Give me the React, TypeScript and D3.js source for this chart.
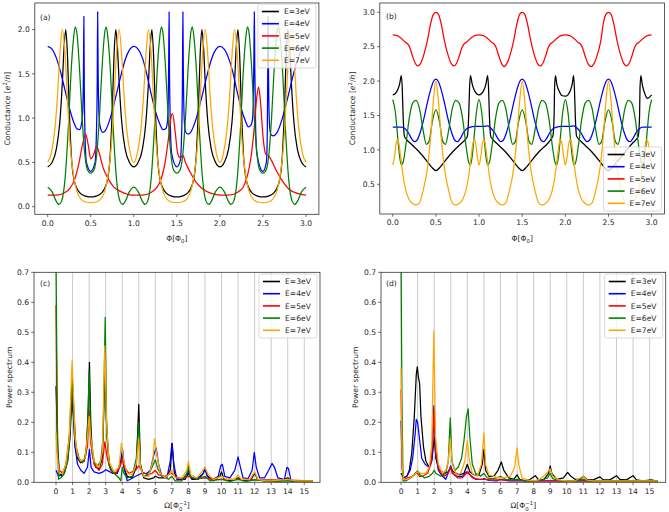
import React from "react";
import * as d3 from "d3";

type Pt = [number, number];

const seriesNames = ["E=3eV", "E=4eV", "E=5eV", "E=6eV", "E=7eV"];
const seriesColors = ["#000000", "#0000ff", "#ff0000", "#008000", "#ffa500"];

const phiTicks = [0, 0.5, 1, 1.5, 2, 2.5, 3];
const condTicksA = [0, 0.5, 1, 1.5, 2];
const condTicksB = [0.5, 1, 1.5, 2, 2.5, 3];
const omegaTicks = [0, 1, 2, 3, 4, 5, 6, 7, 8, 9, 10, 11, 12, 13, 14, 15];
const powerTicks = [0, 0.1, 0.2, 0.3, 0.4, 0.5, 0.6, 0.7];

// ---------- Panel (a): conductance vs flux ----------
const A_E3: Pt[] = [[0,0.45],[0.05,0.5],[0.1,0.65],[0.14,0.95],[0.17,1.4],[0.19,1.8],[0.21,2.0],[0.23,1.7],[0.25,1.1],[0.28,0.5],[0.32,0.25],[0.38,0.15],[0.44,0.12],[0.5,0.11],[0.56,0.12],[0.62,0.15],[0.68,0.25],[0.72,0.5],[0.75,1.1],[0.77,1.7],[0.79,2.0],[0.81,1.8],[0.83,1.4],[0.86,0.95],[0.9,0.65],[0.95,0.5],
[1.0,0.45],[1.05,0.5],[1.1,0.65],[1.14,0.95],[1.17,1.4],[1.19,1.8],[1.21,2.0],[1.23,1.7],[1.25,1.1],[1.28,0.5],[1.32,0.25],[1.38,0.15],[1.44,0.12],[1.5,0.11],[1.56,0.12],[1.62,0.15],[1.68,0.25],[1.72,0.5],[1.75,1.1],[1.77,1.7],[1.79,2.0],[1.81,1.8],[1.83,1.4],[1.86,0.95],[1.9,0.65],[1.95,0.5],
[2.0,0.45],[2.05,0.5],[2.1,0.65],[2.14,0.95],[2.17,1.4],[2.19,1.8],[2.21,2.0],[2.23,1.7],[2.25,1.1],[2.28,0.5],[2.32,0.25],[2.38,0.15],[2.44,0.12],[2.5,0.11],[2.56,0.12],[2.62,0.15],[2.68,0.25],[2.72,0.5],[2.75,1.1],[2.77,1.7],[2.79,2.0],[2.81,1.8],[2.83,1.4],[2.86,0.95],[2.9,0.65],[2.95,0.5],[3.0,0.45]];

const A_E4: Pt[] = [[0,1.81],[0.05,1.78],[0.1,1.68],[0.15,1.52],[0.2,1.32],[0.25,1.12],[0.3,0.96],[0.34,0.88],[0.37,0.87],[0.39,0.92],[0.405,1.05],[0.415,1.5],[0.42,2.15],[0.425,1.3],[0.435,0.75],[0.45,0.5],[0.5,0.4],[0.55,0.5],[0.565,0.8],[0.575,1.4],[0.58,2.2],[0.585,1.6],[0.595,1.05],[0.61,0.9],[0.64,0.84],[0.67,0.86],[0.72,0.98],[0.78,1.2],[0.85,1.48],[0.9,1.66],[0.95,1.77],
[1.0,1.81],[1.05,1.78],[1.1,1.68],[1.15,1.5],[1.2,1.28],[1.25,1.08],[1.3,0.94],[1.34,0.87],[1.37,0.88],[1.39,0.95],[1.4,1.2],[1.405,1.6],[1.41,2.2],[1.415,1.5],[1.425,0.9],[1.44,0.6],[1.5,0.45],[1.54,0.52],[1.555,0.8],[1.565,1.4],[1.57,2.2],[1.575,1.6],[1.585,1.0],[1.6,0.85],[1.63,0.82],[1.66,0.84],[1.72,0.98],[1.78,1.2],[1.85,1.48],[1.9,1.66],[1.95,1.77],
[2.0,1.81],[2.05,1.78],[2.1,1.68],[2.15,1.52],[2.2,1.3],[2.25,1.1],[2.3,0.96],[2.33,0.9],[2.36,0.92],[2.38,1.0],[2.39,1.3],[2.395,1.7],[2.4,2.2],[2.405,1.6],[2.415,0.9],[2.43,0.6],[2.5,0.4],[2.54,0.5],[2.55,0.8],[2.555,1.4],[2.56,2.15],[2.565,1.5],[2.575,0.95],[2.59,0.82],[2.62,0.8],[2.66,0.83],[2.72,0.98],[2.78,1.2],[2.85,1.48],[2.9,1.66],[2.95,1.77],[3.0,1.81]];

const A_E5: Pt[] = [[0,0.13],[0.1,0.13],[0.2,0.16],[0.26,0.21],[0.31,0.3],[0.36,0.48],[0.4,0.68],[0.44,0.82],[0.47,0.7],[0.5,0.54],[0.53,0.58],[0.57,0.68],[0.6,0.6],[0.64,0.45],[0.7,0.32],[0.76,0.23],[0.85,0.17],[0.93,0.14],
[1.0,0.13],[1.1,0.13],[1.2,0.16],[1.27,0.22],[1.32,0.32],[1.36,0.48],[1.4,0.75],[1.43,1.0],[1.45,1.05],[1.48,0.85],[1.51,0.6],[1.54,0.55],[1.57,0.58],[1.6,0.5],[1.65,0.4],[1.72,0.28],[1.8,0.2],[1.9,0.15],
[2.0,0.13],[2.1,0.13],[2.2,0.16],[2.27,0.22],[2.32,0.35],[2.36,0.55],[2.4,0.9],[2.43,1.25],[2.45,1.35],[2.47,1.2],[2.5,0.8],[2.53,0.6],[2.57,0.57],[2.6,0.52],[2.66,0.4],[2.72,0.3],[2.8,0.2],[2.9,0.15],[3.0,0.13]];

const A_E6: Pt[] = [[0,0.22],[0.05,0.17],[0.1,0.06],[0.13,0.025],[0.16,0.06],[0.2,0.3],[0.24,0.9],[0.27,1.5],[0.3,1.9],[0.32,2.03],[0.34,1.95],[0.37,1.55],[0.4,1.0],[0.43,0.6],[0.46,0.42],[0.5,0.38],[0.54,0.42],[0.57,0.6],[0.6,1.0],[0.63,1.55],[0.66,1.95],[0.68,2.03],[0.7,1.9],[0.73,1.5],[0.76,0.9],[0.8,0.3],[0.84,0.06],[0.87,0.025],[0.9,0.06],[0.95,0.17],
[1.0,0.22],[1.05,0.17],[1.1,0.06],[1.13,0.025],[1.16,0.06],[1.2,0.3],[1.24,0.9],[1.27,1.5],[1.3,1.9],[1.32,2.03],[1.34,1.95],[1.37,1.55],[1.4,1.0],[1.43,0.6],[1.46,0.42],[1.5,0.38],[1.54,0.42],[1.57,0.6],[1.6,1.0],[1.63,1.55],[1.66,1.95],[1.68,2.03],[1.7,1.9],[1.73,1.5],[1.76,0.9],[1.8,0.3],[1.84,0.06],[1.87,0.025],[1.9,0.06],[1.95,0.17],
[2.0,0.22],[2.05,0.17],[2.1,0.06],[2.13,0.025],[2.16,0.06],[2.2,0.3],[2.24,0.9],[2.27,1.5],[2.3,1.9],[2.32,2.03],[2.34,1.95],[2.37,1.55],[2.4,1.0],[2.43,0.6],[2.46,0.42],[2.5,0.38],[2.54,0.42],[2.57,0.6],[2.6,1.0],[2.63,1.55],[2.66,1.95],[2.68,2.03],[2.7,1.9],[2.73,1.5],[2.76,0.9],[2.8,0.3],[2.84,0.06],[2.87,0.025],[2.9,0.06],[2.95,0.17],[3.0,0.22]];

const A_E7: Pt[] = [[0,0.5],[0.04,0.6],[0.08,0.85],[0.11,1.2],[0.14,1.7],[0.17,2.0],[0.2,1.75],[0.23,1.2],[0.26,0.7],[0.3,0.35],[0.34,0.17],[0.39,0.08],[0.45,0.05],[0.5,0.045],[0.55,0.05],[0.61,0.08],[0.66,0.17],[0.7,0.35],[0.74,0.7],[0.77,1.2],[0.8,1.75],[0.83,2.0],[0.86,1.7],[0.89,1.2],[0.92,0.85],[0.96,0.6],
[1.0,0.5],[1.04,0.6],[1.08,0.85],[1.11,1.2],[1.14,1.7],[1.17,2.0],[1.2,1.75],[1.23,1.2],[1.26,0.7],[1.3,0.35],[1.34,0.17],[1.39,0.08],[1.45,0.05],[1.5,0.045],[1.55,0.05],[1.61,0.08],[1.66,0.17],[1.7,0.35],[1.74,0.7],[1.77,1.2],[1.8,1.75],[1.83,2.0],[1.86,1.7],[1.89,1.2],[1.92,0.85],[1.96,0.6],
[2.0,0.5],[2.04,0.6],[2.08,0.85],[2.11,1.2],[2.14,1.7],[2.17,2.0],[2.2,1.75],[2.23,1.2],[2.26,0.7],[2.3,0.35],[2.34,0.17],[2.39,0.08],[2.45,0.05],[2.5,0.045],[2.55,0.05],[2.61,0.08],[2.66,0.17],[2.7,0.35],[2.74,0.7],[2.77,1.2],[2.8,1.75],[2.83,2.0],[2.86,1.7],[2.89,1.2],[2.92,0.85],[2.96,0.6],[3.0,0.5]];

// ---------- Panel (b) ----------
const B_E3: Pt[] = [[0,1.8],[0.03,1.82],[0.06,1.88],[0.08,1.96],[0.1,2.08],[0.11,1.9],[0.12,1.5],[0.135,1.2],[0.16,1.15],[0.2,1.1],[0.3,0.98],[0.4,0.83],[0.45,0.75],[0.5,0.7],[0.55,0.75],[0.6,0.83],[0.7,0.98],[0.8,1.1],[0.84,1.15],[0.865,1.2],[0.88,1.5],[0.89,1.9],[0.9,2.08],[0.92,1.96],[0.94,1.88],[0.97,1.82],
[1.0,1.8],[1.03,1.82],[1.06,1.88],[1.08,1.96],[1.1,2.08],[1.11,1.9],[1.12,1.5],[1.135,1.2],[1.16,1.15],[1.2,1.1],[1.3,0.98],[1.4,0.83],[1.45,0.75],[1.5,0.7],[1.55,0.75],[1.6,0.83],[1.7,0.98],[1.8,1.1],[1.83,1.15],[1.855,1.2],[1.87,1.5],[1.875,1.9],[1.885,2.08],[1.9,1.96],[1.93,1.85],[1.96,1.79],
[2.0,1.78],[2.03,1.8],[2.06,1.87],[2.08,1.96],[2.095,2.08],[2.105,1.9],[2.115,1.5],[2.13,1.2],[2.16,1.15],[2.2,1.1],[2.3,0.98],[2.4,0.83],[2.45,0.75],[2.5,0.7],[2.55,0.75],[2.6,0.83],[2.7,0.98],[2.78,1.1],[2.82,1.15],[2.845,1.2],[2.86,1.5],[2.865,1.9],[2.875,2.08],[2.89,1.96],[2.92,1.82],[2.95,1.75],[3.0,1.8]];

const B_E4: Pt[] = [[0,1.33],[0.1,1.33],[0.14,1.31],[0.18,1.25],[0.22,1.16],[0.25,1.12],[0.28,1.14],[0.32,1.26],[0.36,1.45],[0.4,1.68],[0.44,1.88],[0.47,1.99],[0.5,2.03],[0.53,1.99],[0.56,1.88],[0.6,1.68],[0.64,1.45],[0.68,1.26],[0.72,1.14],[0.75,1.12],[0.78,1.16],[0.82,1.25],[0.86,1.31],[0.9,1.33],[0.95,1.34],
[1.0,1.34],[1.05,1.34],[1.1,1.35],[1.14,1.31],[1.18,1.25],[1.22,1.16],[1.25,1.12],[1.28,1.14],[1.32,1.26],[1.36,1.45],[1.4,1.68],[1.44,1.88],[1.47,1.99],[1.5,2.03],[1.53,1.99],[1.56,1.88],[1.6,1.68],[1.64,1.45],[1.68,1.26],[1.72,1.14],[1.75,1.12],[1.78,1.16],[1.82,1.25],[1.86,1.31],[1.9,1.33],[1.95,1.34],
[2.0,1.34],[2.05,1.34],[2.1,1.35],[2.14,1.31],[2.18,1.25],[2.22,1.16],[2.25,1.12],[2.28,1.14],[2.32,1.26],[2.36,1.45],[2.4,1.68],[2.44,1.88],[2.47,1.99],[2.5,2.03],[2.53,1.99],[2.56,1.88],[2.6,1.68],[2.64,1.45],[2.68,1.26],[2.72,1.14],[2.75,1.12],[2.78,1.16],[2.82,1.25],[2.86,1.31],[2.9,1.33],[2.95,1.33],[3.0,1.33]];

const B_E5: Pt[] = [[0,2.67],[0.05,2.66],[0.1,2.62],[0.15,2.56],[0.18,2.53],[0.2,2.48],[0.23,2.36],[0.26,2.26],[0.29,2.22],[0.32,2.25],[0.36,2.38],[0.4,2.58],[0.44,2.84],[0.47,2.97],[0.5,3.0],[0.53,2.97],[0.56,2.84],[0.6,2.58],[0.64,2.38],[0.68,2.25],[0.71,2.22],[0.74,2.26],[0.77,2.36],[0.8,2.48],[0.82,2.53],[0.85,2.56],[0.9,2.62],[0.95,2.66],
[1.0,2.67],[1.05,2.66],[1.1,2.62],[1.15,2.56],[1.18,2.53],[1.2,2.48],[1.23,2.36],[1.26,2.26],[1.29,2.21],[1.32,2.25],[1.36,2.38],[1.4,2.58],[1.44,2.84],[1.47,2.97],[1.5,3.0],[1.53,2.97],[1.56,2.84],[1.6,2.58],[1.64,2.38],[1.68,2.25],[1.71,2.22],[1.74,2.26],[1.77,2.36],[1.8,2.48],[1.82,2.53],[1.85,2.56],[1.9,2.62],[1.95,2.66],
[2.0,2.67],[2.05,2.66],[2.1,2.62],[2.15,2.56],[2.18,2.53],[2.2,2.48],[2.23,2.36],[2.26,2.26],[2.3,2.21],[2.33,2.25],[2.37,2.38],[2.41,2.58],[2.44,2.84],[2.47,2.97],[2.5,3.0],[2.53,2.97],[2.56,2.84],[2.6,2.58],[2.64,2.38],[2.68,2.25],[2.71,2.22],[2.74,2.26],[2.77,2.36],[2.8,2.48],[2.82,2.53],[2.85,2.56],[2.9,2.62],[2.95,2.66],[3.0,2.67]];

const B_E6: Pt[] = [[0,1.73],[0.03,1.55],[0.06,1.15],[0.08,0.9],[0.1,0.78],[0.12,0.82],[0.15,1.05],[0.19,1.45],[0.23,1.68],[0.27,1.72],[0.31,1.6],[0.35,1.3],[0.39,1.08],[0.42,1.12],[0.46,1.42],[0.5,1.58],[0.54,1.42],[0.58,1.12],[0.61,1.08],[0.65,1.3],[0.69,1.6],[0.73,1.72],[0.77,1.68],[0.81,1.45],[0.85,1.05],[0.88,0.82],[0.9,0.78],[0.92,0.9],[0.94,1.15],[0.97,1.55],
[1.0,1.73],[1.03,1.55],[1.06,1.15],[1.08,0.9],[1.1,0.78],[1.12,0.82],[1.15,1.05],[1.19,1.45],[1.23,1.68],[1.27,1.72],[1.31,1.6],[1.35,1.3],[1.39,1.08],[1.42,1.12],[1.46,1.42],[1.5,1.58],[1.54,1.42],[1.58,1.12],[1.61,1.08],[1.65,1.3],[1.69,1.6],[1.73,1.72],[1.77,1.68],[1.81,1.45],[1.85,1.05],[1.88,0.82],[1.9,0.78],[1.92,0.9],[1.94,1.15],[1.97,1.55],
[2.0,1.73],[2.03,1.55],[2.06,1.15],[2.08,0.9],[2.1,0.78],[2.12,0.82],[2.15,1.05],[2.19,1.45],[2.23,1.68],[2.27,1.72],[2.31,1.6],[2.35,1.3],[2.39,1.08],[2.42,1.12],[2.46,1.42],[2.5,1.58],[2.54,1.42],[2.58,1.12],[2.61,1.08],[2.65,1.3],[2.69,1.6],[2.73,1.72],[2.77,1.68],[2.81,1.45],[2.85,1.05],[2.88,0.82],[2.9,0.78],[2.92,0.9],[2.94,1.15],[2.97,1.55],[3.0,1.73]];

const B_E7: Pt[] = [[0,0.78],[0.02,0.9],[0.04,1.1],[0.055,1.15],[0.07,1.1],[0.09,0.92],[0.12,0.62],[0.15,0.42],[0.19,0.28],[0.23,0.22],[0.27,0.2],[0.31,0.23],[0.35,0.4],[0.4,0.72],[0.44,1.2],[0.47,1.7],[0.5,2.0],[0.53,1.7],[0.56,1.2],[0.6,0.72],[0.65,0.4],[0.69,0.23],[0.73,0.2],[0.77,0.22],[0.81,0.28],[0.85,0.42],[0.88,0.62],[0.91,0.92],[0.93,1.1],[0.945,1.15],[0.96,1.1],[0.98,0.9],
[1.0,0.78],[1.02,0.9],[1.04,1.1],[1.055,1.15],[1.07,1.1],[1.09,0.92],[1.12,0.62],[1.15,0.42],[1.19,0.28],[1.23,0.22],[1.27,0.2],[1.31,0.23],[1.35,0.4],[1.4,0.72],[1.44,1.2],[1.47,1.7],[1.5,2.0],[1.53,1.7],[1.56,1.2],[1.6,0.72],[1.65,0.4],[1.69,0.23],[1.73,0.2],[1.77,0.22],[1.81,0.28],[1.85,0.42],[1.88,0.62],[1.91,0.92],[1.93,1.1],[1.945,1.15],[1.96,1.1],[1.98,0.9],
[2.0,0.78],[2.02,0.9],[2.04,1.1],[2.055,1.15],[2.07,1.1],[2.09,0.92],[2.12,0.62],[2.15,0.42],[2.19,0.28],[2.23,0.22],[2.27,0.2],[2.31,0.23],[2.35,0.4],[2.4,0.72],[2.44,1.2],[2.47,1.7],[2.5,2.0],[2.53,1.7],[2.56,1.2],[2.6,0.72],[2.65,0.4],[2.69,0.23],[2.73,0.2],[2.77,0.22],[2.81,0.28],[2.85,0.42],[2.88,0.62],[2.91,0.92],[2.93,1.1],[2.945,1.15],[2.96,1.1],[2.98,0.9],[3.0,0.78]];

// ---------- Panel (c): power spectrum ----------
const C_E3: Pt[] = [[0,0.32],[0.1,0.12],[0.2,0.03],[0.35,0.02],[0.5,0.03],[0.7,0.07],[0.85,0.15],[0.95,0.28],[1.05,0.22],[1.15,0.12],[1.3,0.08],[1.5,0.065],[1.7,0.07],[1.85,0.12],[1.95,0.25],[2.02,0.4],[2.1,0.2],[2.2,0.09],[2.4,0.05],[2.6,0.045],[2.8,0.08],[2.95,0.36],[3.05,0.2],[3.2,0.06],[3.4,0.035],[3.7,0.03],[3.9,0.06],[4.0,0.09],[4.1,0.05],[4.3,0.02],[4.6,0.015],[4.85,0.05],[5.0,0.26],[5.1,0.06],[5.3,0.015],[5.6,0.01],[5.9,0.015],[6.0,0.02],[6.2,0.015],[6.6,0.015],[6.9,0.04],[7.02,0.13],[7.15,0.03],[7.4,0.01],[7.8,0.01],[8.0,0.03],[8.2,0.01],[8.6,0.01],[8.9,0.03],[9.0,0.045],[9.15,0.02],[9.5,0.005],[9.9,0.02],[10.0,0.035],[10.15,0.01],[10.6,0.005],[11.0,0.015],[11.3,0.005],[11.8,0.01],[12.0,0.03],[12.2,0.008],[12.6,0.005],[13.0,0.005],[13.6,0.005],[14.0,0.015],[14.2,0.005],[15.0,0.005],[15.5,0.003]];
const C_E4: Pt[] = [[0,0.04],[0.15,0.02],[0.3,0.025],[0.5,0.04],[0.7,0.08],[0.85,0.18],[0.95,0.31],[1.05,0.24],[1.15,0.12],[1.3,0.06],[1.5,0.04],[1.7,0.03],[1.9,0.05],[2.02,0.11],[2.12,0.05],[2.3,0.035],[2.6,0.03],[2.85,0.035],[3.0,0.042],[3.15,0.038],[3.4,0.03],[3.7,0.03],[3.9,0.07],[4.02,0.11],[4.15,0.04],[4.3,0.005],[4.5,0.01],[4.8,0.02],[5.0,0.025],[5.2,0.03],[5.5,0.03],[5.7,0.04],[5.9,0.09],[6.05,0.115],[6.2,0.06],[6.4,0.02],[6.7,0.015],[6.9,0.07],[7.0,0.13],[7.12,0.06],[7.3,0.01],[7.6,0.01],[7.9,0.02],[8.0,0.04],[8.15,0.015],[8.5,0.01],[8.9,0.03],[9.0,0.05],[9.15,0.02],[9.5,0.01],[9.8,0.02],[9.95,0.055],[10.05,0.06],[10.2,0.02],[10.5,0.015],[10.8,0.04],[11.0,0.085],[11.1,0.06],[11.3,0.015],[11.6,0.012],[11.85,0.04],[11.98,0.1],[12.1,0.05],[12.3,0.015],[12.6,0.015],[12.85,0.04],[13.05,0.063],[13.2,0.05],[13.4,0.015],[13.8,0.01],[13.95,0.05],[14.05,0.045],[14.2,0.005],[14.8,0.005],[15.5,0.003]];
const C_E5: Pt[] = [[0,0.59],[0.08,0.1],[0.2,0.04],[0.4,0.03],[0.6,0.06],[0.8,0.15],[0.92,0.28],[1.0,0.33],[1.08,0.24],[1.2,0.12],[1.4,0.075],[1.7,0.07],[1.9,0.12],[2.0,0.24],[2.1,0.13],[2.3,0.06],[2.6,0.04],[2.8,0.06],[2.95,0.135],[3.1,0.08],[3.3,0.04],[3.6,0.03],[3.85,0.05],[4.0,0.08],[4.15,0.05],[4.4,0.03],[4.8,0.04],[5.0,0.055],[5.2,0.035],[5.5,0.025],[5.8,0.03],[6.0,0.04],[6.2,0.025],[6.6,0.02],[7.0,0.03],[7.3,0.015],[7.7,0.015],[8.0,0.02],[8.4,0.012],[9.0,0.015],[9.5,0.01],[10,0.01],[11,0.01],[12,0.008],[13,0.008],[14,0.007],[15,0.006],[15.5,0.006]];
const C_E6: Pt[] = [[0,0.75],[0.08,0.2],[0.15,0.01],[0.3,0.015],[0.5,0.03],[0.7,0.07],[0.85,0.17],[0.97,0.35],[1.07,0.22],[1.2,0.12],[1.4,0.08],[1.6,0.065],[1.8,0.09],[1.92,0.2],[2.0,0.37],[2.1,0.15],[2.3,0.07],[2.5,0.055],[2.7,0.07],[2.85,0.15],[2.97,0.55],[3.07,0.15],[3.25,0.05],[3.5,0.03],[3.8,0.015],[3.92,0.005],[4.0,0.05],[4.1,0.03],[4.3,0.015],[4.6,0.02],[4.85,0.08],[5.0,0.2],[5.1,0.06],[5.3,0.02],[5.6,0.025],[5.8,0.05],[6.0,0.075],[6.15,0.045],[6.4,0.02],[6.8,0.01],[7.0,0.02],[7.2,0.005],[7.6,0.005],[7.9,0.03],[8.0,0.055],[8.1,0.02],[8.5,0.01],[9.0,0.02],[9.3,0.005],[10,0.01],[10.5,0.003],[11,0.01],[11.5,0.003],[12,0.008],[13,0.003],[14,0.005],[15,0.003],[15.5,0.003]];
const C_E7: Pt[] = [[0,0.165],[0.08,0.08],[0.2,0.03],[0.4,0.03],[0.6,0.06],[0.8,0.15],[0.9,0.3],[0.97,0.405],[1.05,0.3],[1.15,0.15],[1.3,0.09],[1.5,0.07],[1.75,0.08],[1.9,0.15],[2.0,0.22],[2.1,0.15],[2.3,0.07],[2.6,0.05],[2.8,0.1],[2.95,0.455],[3.05,0.2],[3.2,0.07],[3.5,0.035],[3.8,0.05],[3.95,0.13],[4.1,0.07],[4.3,0.03],[4.6,0.025],[4.85,0.06],[5.0,0.145],[5.1,0.05],[5.3,0.02],[5.6,0.02],[5.85,0.07],[5.95,0.145],[6.1,0.09],[6.3,0.03],[6.6,0.015],[6.9,0.03],[7.0,0.04],[7.2,0.015],[7.6,0.015],[7.9,0.04],[8.0,0.07],[8.15,0.025],[8.5,0.015],[8.8,0.035],[9.0,0.05],[9.2,0.025],[9.5,0.01],[10.0,0.02],[10.3,0.01],[10.8,0.01],[11.0,0.025],[11.2,0.01],[11.7,0.01],[12.0,0.035],[12.2,0.01],[12.7,0.005],[13,0.005],[14,0.01],[14.5,0.005],[15,0.005],[15.5,0.005]];

// ---------- Panel (d) ----------
const D_E3: Pt[] = [[0,0.03],[0.15,0.015],[0.35,0.02],[0.5,0.04],[0.65,0.1],[0.8,0.22],[0.92,0.36],[0.98,0.385],[1.05,0.35],[1.12,0.33],[1.2,0.22],[1.35,0.12],[1.5,0.07],[1.7,0.05],[1.85,0.07],[1.95,0.12],[2.02,0.15],[2.1,0.08],[2.3,0.04],[2.6,0.03],[2.85,0.035],[3.0,0.05],[3.15,0.035],[3.5,0.025],[3.8,0.03],[4.0,0.06],[4.15,0.035],[4.4,0.025],[4.7,0.025],[4.9,0.06],[5.0,0.11],[5.1,0.04],[5.3,0.02],[5.6,0.02],[5.85,0.04],[6.05,0.068],[6.2,0.04],[6.5,0.015],[6.8,0.01],[7.0,0.025],[7.15,0.01],[7.5,0.005],[7.8,0.01],[8.1,0.022],[8.3,0.008],[8.6,0.008],[8.9,0.03],[9.0,0.055],[9.1,0.03],[9.4,0.01],[9.8,0.015],[10.05,0.033],[10.25,0.02],[10.5,0.01],[10.8,0.01],[11,0.02],[11.2,0.01],[11.6,0.008],[12,0.018],[12.2,0.008],[12.6,0.008],[13.0,0.022],[13.2,0.01],[13.6,0.008],[14.0,0.022],[14.2,0.008],[14.6,0.005],[15.1,0.008],[15.5,0.003]];
const D_E4: Pt[] = [[0,0.205],[0.07,0.05],[0.15,0.015],[0.35,0.02],[0.55,0.04],[0.7,0.08],[0.85,0.16],[0.92,0.21],[1.0,0.2],[1.1,0.15],[1.25,0.08],[1.45,0.06],[1.7,0.05],[1.88,0.08],[1.98,0.255],[2.08,0.1],[2.25,0.04],[2.5,0.02],[2.7,0.01],[2.9,0.04],[3.0,0.055],[3.1,0.03],[3.4,0.02],[3.7,0.02],[3.95,0.035],[4.15,0.025],[4.5,0.01],[4.9,0.01],[5.0,0.012],[5.3,0.006],[5.8,0.005],[6.0,0.01],[6.5,0.005],[7,0.005],[8,0.005],[9,0.005],[10,0.005],[11,0.005],[12,0.005],[13,0.005],[14,0.005],[15.5,0.005]];
const D_E5: Pt[] = [[0,0.31],[0.07,0.05],[0.15,0.01],[0.4,0.015],[0.7,0.02],[0.9,0.03],[1.0,0.03],[1.1,0.02],[1.3,0.02],[1.6,0.03],[1.8,0.06],[1.92,0.15],[2.0,0.24],[2.1,0.1],[2.3,0.04],[2.6,0.02],[2.85,0.03],[3.0,0.05],[3.1,0.03],[3.4,0.015],[3.7,0.015],[3.95,0.03],[4.05,0.035],[4.3,0.015],[4.7,0.01],[5.0,0.01],[5.5,0.008],[6,0.008],[7,0.006],[8,0.005],[9,0.005],[10,0.005],[11,0.005],[12,0.005],[13,0.005],[14,0.005],[15.5,0.005]];
const D_E6: Pt[] = [[0,0.75],[0.05,0.3],[0.12,0.005],[0.3,0.005],[0.6,0.015],[0.85,0.03],[1.0,0.038],[1.15,0.025],[1.4,0.015],[1.7,0.02],[1.9,0.03],[2.0,0.04],[2.1,0.03],[2.4,0.02],[2.7,0.03],[2.85,0.07],[2.97,0.215],[3.07,0.07],[3.25,0.04],[3.45,0.05],[3.65,0.08],[3.8,0.14],[3.95,0.22],[4.05,0.245],[4.15,0.15],[4.3,0.06],[4.5,0.03],[4.8,0.02],[5.0,0.03],[5.2,0.015],[5.5,0.012],[5.8,0.015],[6.0,0.02],[6.3,0.01],[6.7,0.008],[7.0,0.01],[7.5,0.005],[8.0,0.005],[8.5,0.008],[8.85,0.015],[9.0,0.03],[9.15,0.012],[9.6,0.005],[10,0.005],[10.6,0.005],[11,0.01],[11.3,0.005],[12,0.005],[13,0.005],[14,0.005],[15,0.005],[15.5,0.005]];
const D_E7: Pt[] = [[0,0.38],[0.07,0.06],[0.15,0.01],[0.4,0.01],[0.7,0.02],[0.9,0.03],[1.0,0.035],[1.2,0.03],[1.5,0.03],[1.7,0.05],[1.85,0.12],[1.98,0.505],[2.08,0.15],[2.25,0.06],[2.5,0.03],[2.7,0.04],[2.85,0.07],[2.97,0.145],[3.1,0.06],[3.35,0.025],[3.6,0.03],[3.85,0.07],[4.0,0.14],[4.1,0.08],[4.3,0.03],[4.6,0.02],[4.85,0.06],[5.0,0.165],[5.1,0.06],[5.3,0.025],[5.6,0.02],[5.9,0.015],[6.2,0.015],[6.6,0.02],[6.85,0.05],[7.0,0.115],[7.1,0.06],[7.3,0.015],[7.6,0.008],[8.0,0.005],[8.3,0.008],[8.6,0.02],[8.85,0.035],[9.0,0.045],[9.15,0.02],[9.5,0.008],[10,0.005],[10.5,0.005],[10.85,0.015],[11.0,0.02],[11.2,0.008],[11.6,0.005],[12,0.005],[13,0.005],[14,0.005],[15,0.005],[15.5,0.005]];

const FONT = "DejaVu Sans, sans-serif";
const FS = 7.6;

type Frame = { l: number; r: number; t: number; b: number };

interface PanelProps {
  id: string;
  frame: Frame;
  xDom: [number, number];
  yDom: [number, number];
  xTicks: number[];
  yTicks: number[];
  xFmt: (v: number) => string;
  yFmt: (v: number) => string;
  series: Pt[][];
  curve: d3.CurveFactory;
  grid: boolean;
  legendTop: number;
  tag: string;
  tagX: number;
  tagY: number;
  yLabel: React.ReactNode;
  yLabelX: number;
  xLabel: React.ReactNode;
  xLabelY: number;
}

function Panel(p: PanelProps) {
  const { frame } = p;
  const x = d3.scaleLinear().domain(p.xDom).range([frame.l, frame.r]);
  const y = d3.scaleLinear().domain(p.yDom).range([frame.b, frame.t]);
  const line = d3
    .line<Pt>()
    .x((d) => x(d[0]))
    .y((d) => y(d[1]))
    .curve(p.curve);
  const legW = 58;
  const legL = frame.r - 3 - legW;
  const rowH = 12.2;
  const legH = seriesNames.length * rowH + 3;
  const cx = (frame.l + frame.r) / 2;
  const cy = (frame.t + frame.b) / 2;
  return (
    <g>
      <defs>
        <clipPath id={p.id}>
          <rect x={frame.l} y={frame.t} width={frame.r - frame.l} height={frame.b - frame.t} />
        </clipPath>
      </defs>
      {p.grid &&
        p.xTicks.map((t) => (
          <line key={"g" + t} x1={x(t)} x2={x(t)} y1={frame.t} y2={frame.b} stroke="#c4c4c4" strokeWidth={0.9} />
        ))}
      <g clipPath={`url(#${p.id})`}>
        {p.series.map((s, i) => (
          <path key={i} d={line(s) || ""} fill="none" stroke={seriesColors[i]} strokeWidth={1.25} strokeLinejoin="round" />
        ))}
      </g>
      <rect x={frame.l} y={frame.t} width={frame.r - frame.l} height={frame.b - frame.t} fill="none" stroke="#333" strokeWidth={0.8} />
      {p.xTicks.map((t) => (
        <g key={"xt" + t}>
          <line x1={x(t)} x2={x(t)} y1={frame.b} y2={frame.b + 2.8} stroke="#333" strokeWidth={0.7} />
          <text x={x(t)} y={frame.b + 11.3} textAnchor="middle" fontSize={FS} fontFamily={FONT} fill="#262626">
            {p.xFmt(t)}
          </text>
        </g>
      ))}
      {p.yTicks.map((t) => (
        <g key={"yt" + t}>
          <line x1={frame.l - 2.8} x2={frame.l} y1={y(t)} y2={y(t)} stroke="#333" strokeWidth={0.7} />
          <text x={frame.l - 5} y={y(t)} dy="0.35em" textAnchor="end" fontSize={FS} fontFamily={FONT} fill="#262626">
            {p.yFmt(t)}
          </text>
        </g>
      ))}
      <text x={p.tagX} y={p.tagY} fontSize={FS} fontFamily={FONT} fill="#262626">
        {p.tag}
      </text>
      <g>
        <rect x={legL} y={p.legendTop} width={legW} height={legH} rx={2} fill="#fff" fillOpacity={0.8} stroke="#d0d0d0" strokeWidth={0.8} />
        {seriesNames.map((n, i) => {
          const ry = p.legendTop + 7.5 + i * rowH;
          return (
            <g key={n}>
              <line x1={legL + 4} x2={legL + 21} y1={ry} y2={ry} stroke={seriesColors[i]} strokeWidth={1.6} />
              <text x={legL + 26} y={ry} dy="0.35em" fontSize={FS} fontFamily={FONT} fill="#262626">
                {n}
              </text>
            </g>
          );
        })}
      </g>
      <text transform={`translate(${p.yLabelX},${cy}) rotate(-90)`} textAnchor="middle" fontSize={FS} fontFamily={FONT} fill="#262626">
        {p.yLabel}
      </text>
      <text x={cx} y={p.xLabelY} textAnchor="middle" fontSize={FS} fontFamily={FONT} fill="#262626">
        {p.xLabel}
      </text>
    </g>
  );
}

const condLabel = (
  <>
    <tspan>Conductance [</tspan>
    <tspan fontStyle="italic">e</tspan>
    <tspan dy={-3} fontSize={5.4}>2</tspan>
    <tspan dy={3}>/</tspan>
    <tspan fontStyle="italic">h</tspan>
    <tspan>]</tspan>
  </>
);
const phiLabel = (
  <>
    <tspan>Φ[Φ</tspan>
    <tspan dy={2} fontSize={5.4}>0</tspan>
    <tspan dy={-2}>]</tspan>
  </>
);
const omegaLabel = (
  <>
    <tspan>Ω[Φ</tspan>
    <tspan dy={-3} fontSize={5.4}>−1</tspan>
    <tspan dx={-8} dy={5.5} fontSize={5.4}>0</tspan>
    <tspan dx={4.5} dy={-2.5}>]</tspan>
  </>
);

const f1 = (v: number) => v.toFixed(1);
const f0 = (v: number) => String(v);

export default function App() {
  return (
    <svg width={669} height={512} style={{ position: "absolute", left: 0, top: 0, background: "#fff" }}>
      <rect x={0} y={0} width={669} height={512} fill="#fff" />
      <Panel
        id="clipA"
        frame={{ l: 34.8, r: 318.9, t: 3, b: 214.3 }}
        xDom={[-0.15, 3.15]}
        yDom={[-0.086, 2.3]}
        xTicks={phiTicks}
        yTicks={condTicksA}
        xFmt={f1}
        yFmt={f1}
        series={[A_E3, A_E4, A_E5, A_E6, A_E7]}
        curve={d3.curveMonotoneX}
        grid={false}
        legendTop={4}
        tag="(a)"
        tagX={40}
        tagY={20}
        yLabel={condLabel}
        yLabelX={10}
        xLabel={phiLabel}
        xLabelY={241}
      />
      <Panel
        id="clipB"
        frame={{ l: 379.8, r: 664.6, t: 3, b: 214 }}
        xDom={[-0.15, 3.15]}
        yDom={[0.068, 3.135]}
        xTicks={phiTicks}
        yTicks={condTicksB}
        xFmt={f1}
        yFmt={f1}
        series={[B_E3, B_E4, B_E5, B_E6, B_E7]}
        curve={d3.curveMonotoneX}
        grid={false}
        legendTop={147}
        tag="(b)"
        tagX={386}
        tagY={19}
        yLabel={condLabel}
        yLabelX={354.5}
        xLabel={phiLabel}
        xLabelY={241}
      />
      <Panel
        id="clipC"
        frame={{ l: 34, r: 320, t: 272.3, b: 482.3 }}
        xDom={[-1.33, 15.95]}
        yDom={[0, 0.7]}
        xTicks={omegaTicks}
        yTicks={powerTicks}
        xFmt={f0}
        yFmt={f1}
        series={[C_E3, C_E4, C_E5, C_E6, C_E7]}
        curve={d3.curveLinear}
        grid={true}
        legendTop={274}
        tag="(c)"
        tagX={40}
        tagY={286}
        yLabel="Power spectrum"
        yLabelX={12}
        xLabel={omegaLabel}
        xLabelY={508}
      />
      <Panel
        id="clipD"
        frame={{ l: 381, r: 665.7, t: 272.3, b: 482.3 }}
        xDom={[-1.21, 15.97]}
        yDom={[0, 0.7]}
        xTicks={omegaTicks}
        yTicks={powerTicks}
        xFmt={f0}
        yFmt={f1}
        series={[D_E3, D_E4, D_E5, D_E6, D_E7]}
        curve={d3.curveLinear}
        grid={true}
        legendTop={274}
        tag="(d)"
        tagX={386}
        tagY={286}
        yLabel="Power spectrum"
        yLabelX={358}
        xLabel={omegaLabel}
        xLabelY={508}
      />
    </svg>
  );
}
